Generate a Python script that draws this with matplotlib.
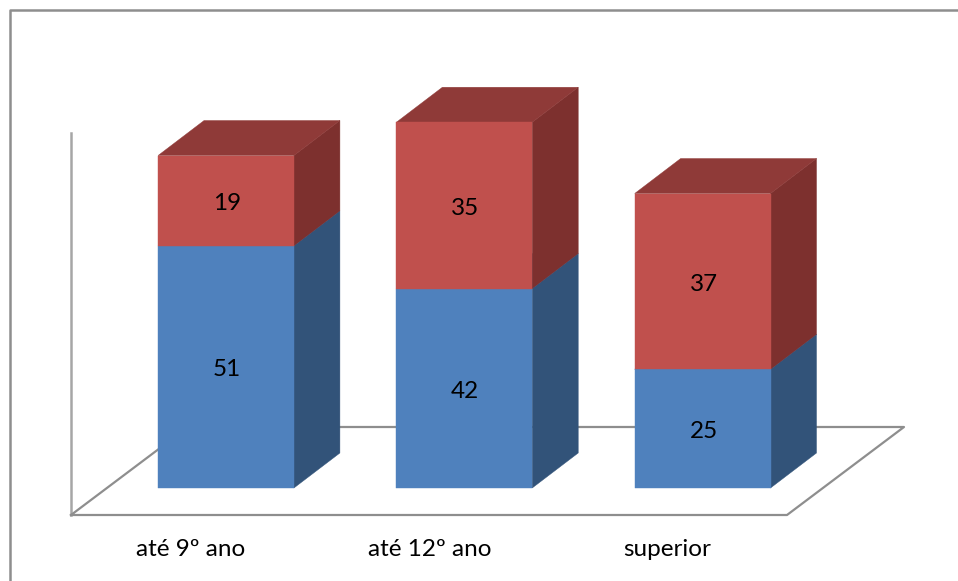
import matplotlib
matplotlib.use('Agg')
import matplotlib.pyplot as plt
from matplotlib.patches import Polygon, Rectangle

# Data
categories = ['até 9º ano', 'até 12º ano', 'superior']
lower_values = [51, 42, 25]
upper_values = [19, 35, 37]

W, H = 958, 581
PX_X = 238.3       # pixels per category
PX_Y = 4.75        # pixels per value unit
X0, Y0 = 226, 488  # pixel position of first category at value 0
BAR_W = 0.57
DX = 46 / PX_X     # depth of the fake 3d
DY = 35 / PX_Y

plt.rcParams['font.family'] = ['Lato', 'DejaVu Sans']

fig = plt.figure(figsize=(W / 100, H / 100), dpi=100)
ax = fig.add_axes([0, 0, 1, 1])
ax.set_xlim(-X0 / PX_X, (W - X0) / PX_X)
ax.set_ylim((Y0 - H) / PX_Y, Y0 / PX_Y)
ax.axis('off')


# helpers to place furniture by pixel
def px(x):
    return (x - X0) / PX_X


def py(y):
    return (Y0 - y) / PX_Y


GREY = '#8e8e8e'

# outer frame, only top and left show in the crop
ax.plot([px(10), px(10), px(958)], [py(581), py(10), py(10)], color=GREY, lw=1.8, zorder=1)

# wall and floor
ax.plot([px(71), px(71)], [py(133), py(515)], color='#a6a6a6', lw=1.8, zorder=1)
ax.plot([px(71), px(787), px(904), px(188), px(71)],
        [py(515), py(515), py(427), py(427), py(515)], color=GREY, lw=1.6, zorder=1)


def draw_block(x, bottom, height, front, top, side):
    left = x - BAR_W / 2
    right = x + BAR_W / 2
    upper = bottom + height
    ax.add_patch(Polygon([(right, bottom), (right + DX, bottom + DY),
                          (right + DX, upper + DY), (right, upper)],
                         fc=side, ec=side, lw=0.3, zorder=3))
    ax.add_patch(Polygon([(left, upper), (left + DX, upper + DY),
                          (right + DX, upper + DY), (right, upper)],
                         fc=top, ec=top, lw=0.3, zorder=3))
    ax.add_patch(Rectangle((left, bottom), BAR_W, height, fc=front, ec=front, lw=0.3, zorder=4))
    ax.annotate(str(height), (x, bottom + height / 2), xytext=(0.7, -2), textcoords='offset points',
                ha='center', va='center', fontsize=17.5, color='black', zorder=5)


for i, cat in enumerate(categories):
    draw_block(i, 0, lower_values[i], '#4f81bd', '#3f6797', '#325379')
    draw_block(i, lower_values[i], upper_values[i], '#c0504d', '#8f3a38', '#7d302e')
    ax.text(i - 35 / PX_X, py(550), cat, ha='center', va='center', fontsize=17.5, color='black')

fig.savefig('out.png', dpi=100)
